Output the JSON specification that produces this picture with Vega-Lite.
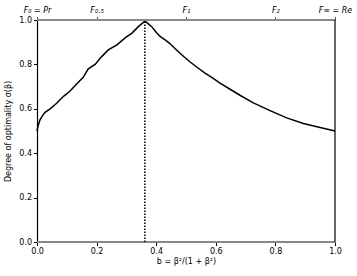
{
  "$schema": "https://vega.github.io/schema/vega-lite/v6.json",
  "width": 298,
  "height": 222,
  "autosize": {"type": "none"},
  "padding": {"left": 37, "top": 20, "right": 22, "bottom": 34},
  "config": {
    "view": {"stroke": null},
    "font": "DejaVu Sans",
    "axis": {
      "labelFont": "DejaVu Sans",
      "titleFont": "DejaVu Sans",
      "labelFontSize": 8,
      "titleFontSize": 8,
      "titleFontWeight": "normal",
      "labelColor": "black",
      "titleColor": "black",
      "tickColor": "black",
      "tickSize": 3.5,
      "labelPadding": 2,
      "labelFlush": false,
      "labelBound": false,
      "labelOverlap": false,
      "grid": false
    }
  },
  "datasets": {
    "curve": [
      {"b": 0.0, "s": 0.5},
      {"b": 0.003, "s": 0.52},
      {"b": 0.01, "s": 0.55},
      {"b": 0.018, "s": 0.568},
      {"b": 0.027, "s": 0.584},
      {"b": 0.044, "s": 0.6},
      {"b": 0.066, "s": 0.625},
      {"b": 0.088, "s": 0.655},
      {"b": 0.111, "s": 0.68},
      {"b": 0.133, "s": 0.712},
      {"b": 0.155, "s": 0.742},
      {"b": 0.172, "s": 0.78},
      {"b": 0.195, "s": 0.8},
      {"b": 0.217, "s": 0.835},
      {"b": 0.239, "s": 0.865},
      {"b": 0.267, "s": 0.887},
      {"b": 0.301, "s": 0.925},
      {"b": 0.318, "s": 0.94},
      {"b": 0.34, "s": 0.97},
      {"b": 0.362, "s": 0.995},
      {"b": 0.37, "s": 0.987},
      {"b": 0.385, "s": 0.97},
      {"b": 0.399, "s": 0.946},
      {"b": 0.413, "s": 0.926},
      {"b": 0.43, "s": 0.91},
      {"b": 0.446, "s": 0.894},
      {"b": 0.463, "s": 0.872},
      {"b": 0.48, "s": 0.85},
      {"b": 0.497, "s": 0.83},
      {"b": 0.513, "s": 0.812},
      {"b": 0.538, "s": 0.786},
      {"b": 0.564, "s": 0.761},
      {"b": 0.59, "s": 0.738},
      {"b": 0.614, "s": 0.716},
      {"b": 0.648, "s": 0.688},
      {"b": 0.681, "s": 0.661},
      {"b": 0.726, "s": 0.627},
      {"b": 0.782, "s": 0.592},
      {"b": 0.838, "s": 0.559},
      {"b": 0.894, "s": 0.534},
      {"b": 0.95, "s": 0.516},
      {"b": 1.0, "s": 0.5}
    ],
    "peak": [{"b": 0.362, "s0": 0, "s": 0.995}],
    "hspine": [{"s": 0}, {"s": 1}],
    "vspine": [{"b": 1, "s0": 0, "s": 1}]
  },
  "layer": [
    {
      "data": {"name": "curve"},
      "mark": {"type": "line", "color": "black", "strokeWidth": 1.5},
      "encoding": {
        "x": {
          "field": "b", "type": "quantitative",
          "scale": {"domain": [0, 1], "nice": false},
          "axis": {"orient": "bottom", "values": [0, 0.2, 0.4, 0.6, 0.8, 1], "format": ".1f", "domain": false, "title": "b = β²/(1 + β²)", "titlePadding": 2}
        },
        "y": {
          "field": "s", "type": "quantitative",
          "scale": {"domain": [0, 1], "nice": false},
          "axis": {"orient": "left", "values": [0, 0.2, 0.4, 0.6, 0.8, 1], "format": ".1f", "domainColor": "black", "domainWidth": 1.2, "title": "Degree of optimality σ(β)", "titlePadding": 6}
        }
      }
    },
    {
      "data": {"name": "hspine"},
      "mark": {"type": "rule", "color": "#888888", "strokeWidth": 2},
      "encoding": {
        "y": {"field": "s", "type": "quantitative"}
      }
    },
    {
      "data": {"name": "peak"},
      "mark": {"type": "rule", "color": "black", "strokeWidth": 1.5, "strokeDash": [1.5, 1.5]},
      "encoding": {
        "x": {
          "field": "b", "type": "quantitative",
          "axis": {
            "orient": "top", "values": [0, 0.2, 0.5, 0.8, 1], "domain": false, "title": null,
            "tickColor": "#555555",
            "labelFontStyle": "italic",
            "labelExpr": "datum.value == 0 ? 'F₀ = Pr' : datum.value == 0.2 ? 'F₀.₅' : datum.value == 0.5 ? 'F₁' : datum.value == 0.8 ? 'F₂' : 'F∞ = Re'"
          }
        },
        "y": {"field": "s0", "type": "quantitative"},
        "y2": {"field": "s"}
      }
    },
    {
      "data": {"name": "vspine"},
      "mark": {"type": "rule", "color": "black", "strokeWidth": 1.2},
      "encoding": {
        "x": {"field": "b", "type": "quantitative", "axis": null},
        "y": {"field": "s0", "type": "quantitative"},
        "y2": {"field": "s"}
      }
    }
  ],
  "resolve": {"axis": {"x": "independent"}}
}
